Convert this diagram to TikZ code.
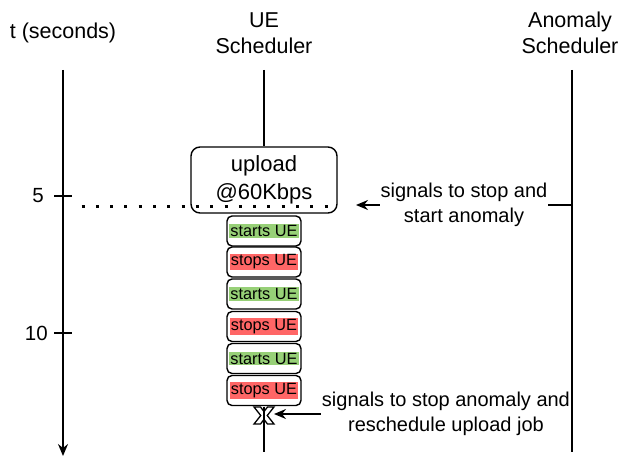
\documentclass[tikz,border=0pt]{standalone}
\usepackage{fontspec}
\setmainfont{Liberation Sans}
\usetikzlibrary{arrows.meta}
\definecolor{startgreen}{HTML}{97D077}
\definecolor{stopred}{HTML}{FF6666}
\newcommand\hlbox[2]{{\setlength{\fboxsep}{1pt}\colorbox{#1}{#2}}}
\begin{document}
\begin{tikzpicture}[x=1pt,y=-1pt,
  life/.style={line width=1.6pt},
  header/.style={font=\fontsize{21.5}{26}\selectfont, align=center, inner sep=0pt},
  tlabel/.style={font=\fontsize{20.5}{24}\selectfont, inner sep=0pt},
  uploadbox/.style={draw, line width=1.4pt, rounded corners=9pt, fill=white,
    minimum width=146pt, minimum height=66pt, align=center, inner sep=0pt,
    font=\fontsize{22}{28}\selectfont},
  uebox/.style={draw, line width=1.4pt, rounded corners=5pt, fill=white,
    minimum width=74pt, minimum height=30pt, inner sep=0pt,
    font=\fontsize{16.3}{19}\selectfont},
  signal/.style={line width=1.6pt, -{Stealth[length=12pt,width=10pt,inset=4pt]}},
  siglabel/.style={fill=white, align=center, inner sep=1pt,
    font=\fontsize{20}{25}\selectfont}
]
\useasboundingbox (0,0) rectangle (620,457);

% column headers
\node[header] (thead) at (63,33) {t (seconds)};
\node[header] (uehead) at (264,33) {UE\\Scheduler};
\node[header] (anhead) at (570,33) {Anomaly\\Scheduler};

% time axis with ticks
\coordinate (ttop) at (63,70);
\coordinate (tbot) at (63,456);
\draw[line width=1.6pt, -{Stealth[length=12pt,width=10pt,inset=4pt]}] (ttop) -- (tbot);
\coordinate (t5) at (63,196);
\coordinate (t10) at (63,333);
\draw[line width=1.4pt] ([xshift=-9pt]t5) -- ([xshift=9pt]t5);
\draw[line width=1.4pt] ([xshift=-9pt]t10) -- ([xshift=9pt]t10);
\node[tlabel, anchor=east] (lab5) at (44,196) {5};
\node[tlabel, anchor=east] (lab10) at (48,333) {10};

% anomaly scheduler lifeline
\coordinate (antop) at (572,70);
\coordinate (anbot) at (572,452);
\draw[life] (antop) -- (anbot);

% UE scheduler lifeline and upload job
\coordinate (uetop) at (264,70);
\node[uploadbox] (upl) at (264,180) {upload\\@60Kbps};
\draw[life] (uetop) -- (upl.north);

% time marker at t = 5
\draw[line width=3pt, dash pattern=on 3pt off 11.3pt] (81.5,206) -- (336,206);

% UE on/off sequence
\node[uebox] (s1) at (264,231) {\hlbox{startgreen}{starts UE}};
\node[uebox] (s2) at (264,262) {\hlbox{stopred}{stops UE}};
\node[uebox] (s3) at (264,294) {\hlbox{startgreen}{starts UE}};
\node[uebox] (s4) at (264,326.5) {\hlbox{stopred}{stops UE}};
\node[uebox] (s5) at (264,358.5) {\hlbox{startgreen}{starts UE}};
\node[uebox] (s6) at (264,390.5) {\hlbox{stopred}{stops UE}};

% end-of-job cross: an outlined X
\coordinate (xend) at (264,415.5);
\draw[line width=1.3pt, fill=white, line join=miter, shift={(xend)}]
  (-10,-8.5) -- (-3.5,-8.5) -- (0,-3.9) -- (3.5,-8.5) -- (10,-8.5) -- (3.25,0)
  -- (10,8.5) -- (3.5,8.5) -- (0,3.9) -- (-3.5,8.5) -- (-10,8.5) -- (-3.25,0) -- cycle;
\coordinate (uebot) at (264,452);
\draw[life] ([yshift=9pt]xend) -- (uebot);

% signals from the anomaly scheduler
\coordinate (sig1from) at (572,205);
\coordinate (sig1to) at (356,205);
\draw[signal] (sig1from) -- (sig1to)
  node[siglabel, midway] (sig1lab) {signals to stop and\\start anomaly};

\coordinate (sig2from) at (572,414);
\coordinate (sig2to) at (274,414);
\draw[signal] (sig2from) -- (sig2to)
  node[siglabel, pos=0.423] (sig2lab) {signals to stop anomaly and\\reschedule upload job};
\end{tikzpicture}
\end{document}
